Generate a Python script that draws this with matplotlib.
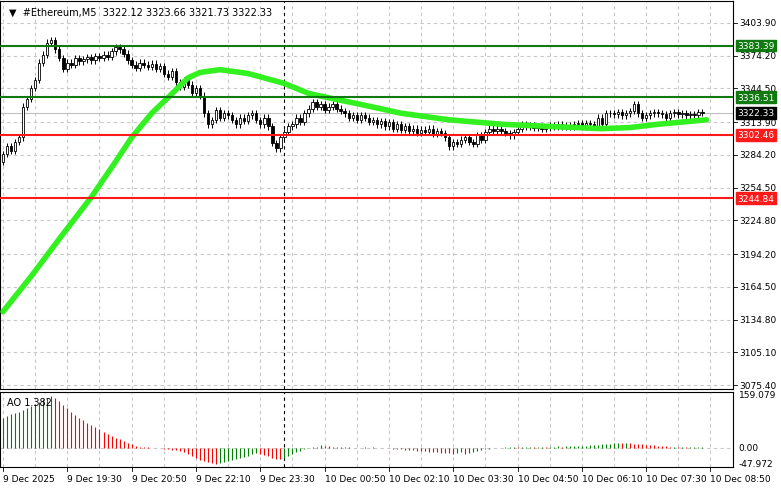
import matplotlib
matplotlib.use("Agg")
import matplotlib.pyplot as plt
import numpy as np

# close prices, one per M5 bar (open = previous close)
closes = [
    3285, 3292, 3288, 3296, 3300, 3328, 3335, 3345, 3352, 3368,
    3375, 3386, 3388, 3380, 3372, 3362, 3368, 3366, 3372, 3369,
    3371, 3373, 3370, 3374, 3372, 3375, 3373, 3378, 3382, 3380,
    3376, 3370, 3366, 3363, 3368, 3366, 3364, 3367, 3362, 3365,
    3358, 3355, 3360, 3350, 3346, 3352, 3348, 3340, 3345, 3338,
    3322, 3312, 3316, 3325, 3318, 3322, 3320, 3316, 3312, 3318,
    3315, 3320, 3322, 3316, 3312, 3318, 3310, 3295, 3290, 3300,
    3305, 3310, 3312, 3318, 3314, 3322, 3326, 3332, 3328, 3330,
    3325, 3328, 3330, 3326, 3324, 3322, 3318, 3320, 3316, 3320,
    3318, 3314, 3316, 3312, 3315, 3310, 3314, 3308, 3312, 3307,
    3310, 3306, 3308, 3304, 3307, 3305, 3308, 3303, 3306, 3304,
    3300, 3292, 3296, 3294, 3298, 3300, 3296, 3294, 3302, 3298,
    3305, 3308, 3306, 3308, 3306, 3304, 3302, 3305, 3308, 3312,
    3310, 3311, 3309, 3310, 3308, 3309, 3311, 3310, 3312, 3310,
    3311, 3310, 3312, 3313, 3310, 3313, 3312, 3310, 3318, 3312,
    3322, 3322, 3321, 3323, 3320, 3322, 3324, 3330, 3322, 3318,
    3320, 3322, 3323, 3322, 3321, 3318, 3322, 3323, 3321, 3322,
    3320, 3321, 3320, 3323, 3322.33,
]
first_open = 3278

# moving average, read at a number of bars
ma_bars = [0, 7, 14, 22, 28, 32, 37, 41, 46, 49, 54, 61, 70, 76, 81,
           89, 99, 111, 124, 136, 149, 156, 163, 175]
ma_vals = [3142, 3174, 3208, 3246, 3278, 3300, 3322, 3336, 3354, 3359,
           3361.5, 3358, 3349, 3340, 3336, 3330, 3322, 3316, 3312, 3310,
           3308, 3309, 3312, 3316]

ao = [
    90, 95, 100, 104, 108, 112, 118, 125, 132, 138,
    145, 150, 155, 150, 140, 128, 118, 108, 98, 90,
    82, 75, 68, 61, 55, 48, 42, 36, 30, 25,
    20, 15, 10, 6, 3, 2, 1, 0, -1, -2,
    -3, -4, -6, -8, -10, -14, -18, -24, -30, -36,
    -40, -44, -46, -48, -46, -43, -40, -37, -34, -31,
    -28, -26, -20, -15, -18, -22, -26, -30, -33, -35,
    -32, -26, -20, -14, -9, -5, -2, 1, 3, 8,
    6, 4, 2, 1, 1, 2, 1, 0, 0, -1,
    1, 0, 1, 0, -1, -1, -2, -3, -4, -5,
    -6, -7, -8, -9, -10, -11, -12, -13, -14, -15,
    -16, -17, -18, -16, -14, -18, -15, -12, -9, -7,
    -5, -3, -2, -1, 0, 1, 1, 2, 1, 2,
    2, 3, 2, 3, 3, 2, 3, 3, 4, 3,
    4, 4, 5, 5, 6, 6, 7, 8, 9, 10,
    11, 12, 13, 14, 13, 14, 13, 12, 11, 10,
    9, 8, 7, 6, 5, 4, 3, 3, 2, 2,
    1, 1, 1, 1, 1,
]

price_ticks = [3403.90, 3374.20, 3344.50, 3313.90, 3284.20, 3254.50, 3224.80,
               3194.20, 3164.50, 3134.80, 3105.10, 3075.40]
levels = [(3383.39, "#107a10"), (3336.51, "#107a10"), (3302.46, "#ff1a1a"), (3244.84, "#ff1a1a")]
last_price = 3322.33
time_labels = ["9 Dec 2025", "9 Dec 19:30", "9 Dec 20:50", "9 Dec 22:10", "9 Dec 23:30",
               "10 Dec 00:50", "10 Dec 02:10", "10 Dec 03:30", "10 Dec 04:50",
               "10 Dec 06:10", "10 Dec 07:30", "10 Dec 08:50"]

W, H = 781, 489
fig = plt.figure(figsize=(W / 100, H / 100), dpi=100)
xl = (-0.75, 181.6)
ax = fig.add_axes([0, 1 - 390 / H, 733 / W, 388 / H])
ao_ax = fig.add_axes([0, 1 - 468 / H, 733 / W, 75 / H])

grid_kw = dict(color="#c8c8c8", lw=0.8, ls=(0, (3, 3)))
for a in (ax, ao_ax):
    a.set_xlim(*xl)
    for g in range(0, 182, 8):
        a.axvline(g, **grid_kw, zorder=0)
    a.set_xticks([])
    a.set_yticks([])
    for s in a.spines.values():
        s.set_color("black")
        s.set_linewidth(0.8)

# candles
ax.set_ylim(3071.8, 3423.8)
opens = [first_open] + closes[:-1]
for i, (o, c) in enumerate(zip(opens, closes)):
    lo, hi = min(o, c), max(o, c)
    ax.vlines(i, lo - 3, hi + 3, color="black", lw=0.7, zorder=3)
    face = "white" if c >= o else "black"
    ax.bar(i, max(hi - lo, 0.4), bottom=lo, width=0.6, facecolor=face,
           edgecolor="black", lw=0.6, zorder=4)
for p in price_ticks:
    ax.axhline(p, **grid_kw, zorder=0)
ax.axhline(last_price, color="#c0c0c0", lw=0.8, zorder=1)
ax.plot(ma_bars, ma_vals, color="#33f020", lw=4, solid_capstyle="round",
        solid_joinstyle="round", zorder=5)
for lvl, col in levels:
    ax.axhline(lvl, color=col, lw=1.5, zorder=6)
ax.axvline(70, color="black", lw=0.8, ls=(0, (3, 3)), zorder=2)
ax.text(0.012, 0.985, "▼  #Ethereum,M5  3322.12 3323.66 3321.73 3322.33",
        transform=ax.transAxes, va="top", fontsize=7, color="black")

# right price axis labels
rt = ax.get_yaxis_transform()
for p in price_ticks:
    ax.text(1.008, p, f"{p:.2f}", transform=rt, va="center", fontsize=6.5, clip_on=False)
    ax.plot([1.0, 1.006], [p, p], transform=rt, color="black", lw=0.6, clip_on=False)
for lvl, col in levels + [(last_price, "black")]:
    ax.text(1.006, lvl, f"{lvl:.2f}", transform=rt, va="center", fontsize=6.5,
            color="white", clip_on=False, zorder=10,
            bbox=dict(boxstyle="square,pad=0.15", fc=col, ec=col))

# AO panel
ao_ax.set_ylim(-58, 167)
prev = [ao[0]] + ao[:-1]
cols = ["#008000" if v >= p else "#ff0000" for v, p in zip(ao, prev)]
ao_ax.vlines(range(len(ao)), 0, ao, colors=cols, lw=0.8, zorder=3)
ao_ax.axhline(0, **grid_kw, zorder=1)
ao_ax.axvline(70, color="black", lw=0.8, ls=(0, (3, 3)), zorder=2)
ao_ax.text(0.01, 0.93, "AO 1.382", transform=ao_ax.transAxes, va="top", fontsize=7)
rt2 = ao_ax.get_yaxis_transform()
for v, lab in [(159.079, "159.079"), (0, "0.00"), (-47.972, "-47.972")]:
    ao_ax.text(1.008, v, lab, transform=rt2, va="center", fontsize=6.5, clip_on=False)

# time axis
for k, lab in enumerate(time_labels):
    b = k * 16
    ao_ax.text(b, -0.1, lab, transform=ao_ax.get_xaxis_transform(), va="top",
               ha="left", fontsize=6.5, clip_on=False)
    ao_ax.plot([b, b], [0, -0.05], transform=ao_ax.get_xaxis_transform(),
               color="black", lw=0.6, clip_on=False)

fig.savefig("out.png", dpi=100, facecolor="white")
